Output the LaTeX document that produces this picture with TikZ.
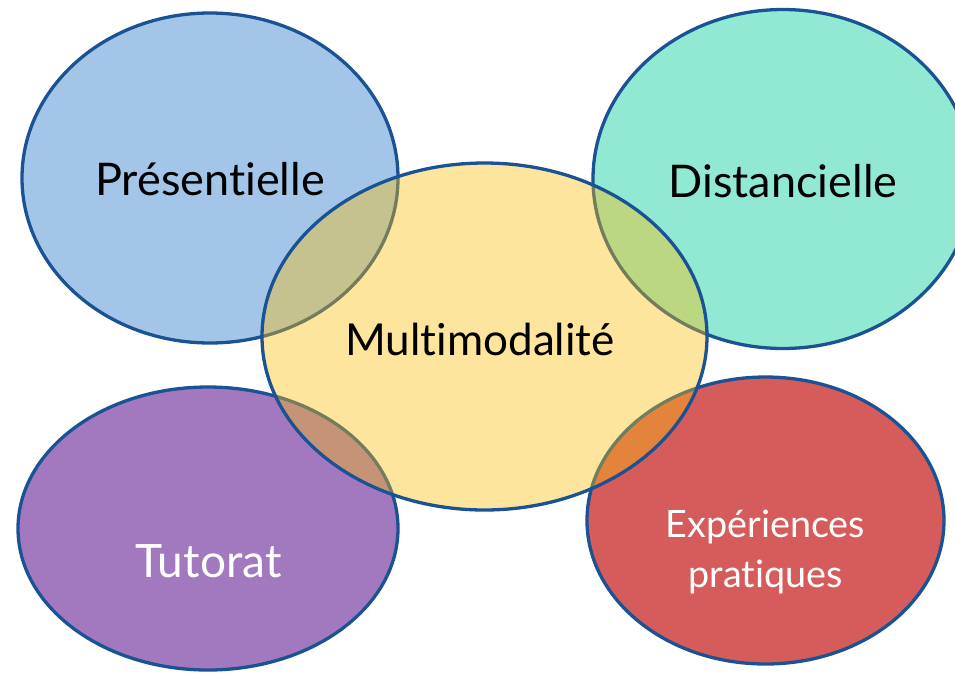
\documentclass[tikz,border=0pt]{standalone}
\usepackage{fontspec}
\setmainfont{Lato}[Ligatures={NoCommon,NoRequired,NoContextual}]
\usetikzlibrary{shapes.geometric}
\definecolor{bord}{RGB}{26,82,147}
\definecolor{cblue}{RGB}{163,198,232}
\definecolor{cteal}{RGB}{145,233,211}
\definecolor{cpurple}{RGB}{162,121,191}
\definecolor{cred}{RGB}{214,92,92}
\definecolor{cyellow}{RGB}{250,190,10}
\begin{document}
\begin{tikzpicture}[x=1pt,y=-1pt,
  bub/.style={ellipse, draw=bord, line width=3.3pt, inner sep=0pt},
  lbl/.style={anchor=base, inner sep=0pt, font=\fontsize{45}{54}\selectfont}]
\useasboundingbox (0,0) rectangle (955,673);
\clip (0,0) rectangle (955,673);
\node[bub, fill=cblue, minimum width=376pt, minimum height=330pt] (pres) at (210,178) {};
\node[bub, fill=cteal, minimum width=380pt, minimum height=339pt] (dist) at (783,179) {};
\node[bub, fill=cpurple, minimum width=380pt, minimum height=283pt] (tut) at (208,528.5) {};
\node[bub, fill=cred, minimum width=357pt, minimum height=287pt] (exp) at (765.5,520.5) {};
\node[bub, fill=cyellow, fill opacity=0.4, minimum width=445pt, minimum height=347pt] (multi) at (484.5,336.5) {};
\node[lbl] (tpres) at (210,195) {Présentielle};
\node[lbl] (tdist) at (783,197) {Distancielle};
\node[lbl, font=\fontsize{44}{54}\selectfont] (tmulti) at (480,355) {Multimodalité};
\node[lbl, text=white, font=\fontsize{46}{56}\selectfont] (ttut) at (208.5,577) {Tutorat};
\node[lbl, text=white, align=center, font=\fontsize{37.7}{50}\selectfont] (texp) at (765.5,587) {Expériences\\pratiques};
\end{tikzpicture}
\end{document}
